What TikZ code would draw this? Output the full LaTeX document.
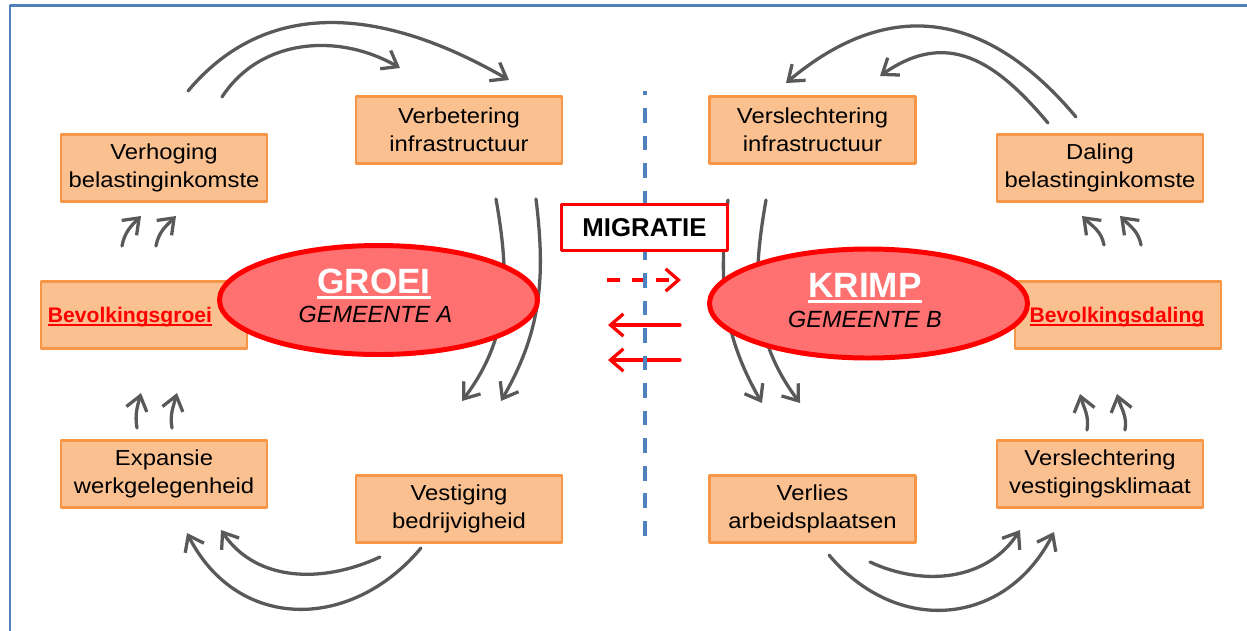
\documentclass[tikz,border=0pt]{standalone}
\usepackage{fontspec}
\setmainfont{Liberation Sans}
\newfontfamily\vakfont[FakeStretch=1.1]{Liberation Sans}
\usetikzlibrary{arrows.meta,shapes.geometric}

\definecolor{kaderblauw}{HTML}{4F81BD}
\definecolor{vakrand}{HTML}{F79646}
\definecolor{vakvulling}{HTML}{FAC090}
\definecolor{kernrood}{HTML}{FF7070}
\definecolor{pijlgrijs}{HTML}{595959}

% underlined headings: #1 thickness, #2 depth of the rule, #3 text
\newsavebox{\kopbox}
\newcommand{\onderstreep}[3]{\sbox{\kopbox}{#3}%
  \rlap{\vrule height \dimexpr #1-#2\relax depth #2 width \wd\kopbox}\usebox{\kopbox}}
\newcommand{\kop}[1]{\onderstreep{3pt}{5.5pt}{#1}}
\newcommand{\rodekop}[1]{\onderstreep{1.7pt}{3.5pt}{#1}}

\begin{document}
\begin{tikzpicture}[x=0.03cm,y=0.03cm,line join=round,line cap=round,
    vak/.style={draw=vakrand,fill=vakvulling,line width=2.5pt,minimum width=6.18cm,
      minimum height=2cm,align=center,inner sep=0pt,font=\vakfont\fontsize{18.5}{24}\selectfont},
    kern/.style={ellipse,draw=red,fill=kernrood,line width=4.25pt,minimum width=9.54cm,
      minimum height=3.27cm,inner sep=0pt},
    titel/.style={anchor=base,text=white,font=\bfseries\fontsize{30}{30}\selectfont},
    gemeente/.style={anchor=base,font=\itshape\fontsize{20}{20}\selectfont},
    rodetekst/.style={anchor=base,text=red,font=\bfseries\fontsize{18}{18}\selectfont},
    kringloop/.style={draw=pijlgrijs,line width=2.8pt,-{Straight Barb[length=12pt,width=18pt]}},
    migratiepijl/.style={draw=red,line width=2.8pt,-{Straight Barb[length=11pt,width=19pt]}}]
  \useasboundingbox (0,0) rectangle (1247,-630);

  % Frame
  \draw[kaderblauw,line width=2.5pt,line cap=butt] (10,-650) -- (10,-5.5) -- (1270,-5.5);

  % Ends of the cycle arrows
  \coordinate (tl1s) at (188,-91);   \coordinate (tl1e) at (509,-80);
  \coordinate (tl2s) at (222,-97);   \coordinate (tl2e) at (400,-68);
  \coordinate (ld1s) at (496,-199);  \coordinate (ld1e) at (462,-401);
  \coordinate (ld2s) at (536,-199);  \coordinate (ld2e) at (501,-401);
  \coordinate (bl1s) at (421,-548);  \coordinate (bl1e) at (187,-533);
  \coordinate (bl2s) at (380,-557);  \coordinate (bl2e) at (221,-530);
  \coordinate (lo1s) at (137,-428);  \coordinate (lo1e) at (141,-393);
  \coordinate (lo2s) at (172,-428);  \coordinate (lo2e) at (177,-393);
  \coordinate (lb1s) at (122,-246);  \coordinate (lb1e) at (141,-216);
  \coordinate (lb2s) at (156,-246);  \coordinate (lb2e) at (176,-216);

  \coordinate (tr1s) at (1076,-117); \coordinate (tr1e) at (786,-83);
  \coordinate (tr2s) at (1048,-123); \coordinate (tr2e) at (880,-76);
  \coordinate (rd1s) at (728,-200);  \coordinate (rd1e) at (762,-403);
  \coordinate (rd2s) at (766,-200);  \coordinate (rd2e) at (800,-403);
  \coordinate (br1s) at (829,-555);  \coordinate (br1e) at (1054,-532);
  \coordinate (br2s) at (870,-562);  \coordinate (br2e) at (1020,-530);
  \coordinate (ro1s) at (1087,-430); \coordinate (ro1e) at (1080,-394);
  \coordinate (ro2s) at (1125,-430); \coordinate (ro2e) at (1117,-394);
  \coordinate (rb1s) at (1104,-245); \coordinate (rb1e) at (1082,-216);
  \coordinate (rb2s) at (1141,-245); \coordinate (rb2e) at (1120,-216);

  % Migration arrows and divider
  \coordinate (mig1s) at (607,-280); \coordinate (mig1e) at (681,-280);
  \coordinate (mig2s) at (680,-325); \coordinate (mig2e) at (608,-325);
  \coordinate (mig3s) at (680,-360); \coordinate (mig3e) at (608,-360);
  \coordinate (grensboven) at (645,-91); \coordinate (grensonder) at (645,-545);

  % Cycle arrows, left (growth) and right (shrinkage)
  \foreach \from/\to/\uit/\aan/\los in {tl1s/tl1e/50/150/1.05, tl2s/tl2e/57/150/1,
      ld1s/ld1e/-80/53/1, ld2s/ld2e/-83/60/1, bl1s/bl1e/-130/-63/1.2, bl2s/bl2e/-155/-56/1,
      lo1s/lo1e/100/-105/1, lo2s/lo2e/100/-105/1, lb1s/lb1e/80/-135/1, lb2s/lb2e/80/-135/1,
      tr1s/tr1e/130/40/1.2, tr2s/tr2e/130/35/1.2, rd1s/rd1e/-97/120/1, rd2s/rd2e/-100/127/1,
      br1s/br1e/-50/-117/1.2, br2s/br2e/-25/-123/1, ro1s/ro1e/80/-75/1, ro2s/ro2e/80/-75/1,
      rb1s/rb1e/100/-45/1, rb2s/rb2e/100/-45/1}
    \draw[kringloop] (\from) to[out=\uit,in=\aan,looseness=\los] (\to);

  % Left: Gemeente A
  \node[vak] (verhoging) at (164,-168) {Verhoging\\belastinginkomste};
  \node[vak] (verbetering) at (459,-130) {Verbetering\\infrastructuur};
  \node[vak] (groeivak) at (144,-315) {};
  \node[rodetekst] (groeitekst) at (130,-322) {\rodekop{Bevolkingsgroei}};
  \node[vak] (expansie) at (164,-474) {Expansie\\werkgelegenheid};
  \node[vak] (vestiging) at (459,-509) {Vestiging\\bedrijvigheid};
  \node[kern] (groei) at (378.5,-300) {};
  \node[titel] (groeititel) at (374,-293) {\kop{GROEI}};
  \node[gemeente] (gemeentea) at (375.5,-322) {GEMEENTE A};

  % Right: Gemeente B
  \node[vak] (verslechtering) at (812.5,-130) {Verslechtering\\infrastructuur};
  \node[vak] (daling) at (1100,-168) {Daling\\belastinginkomste};
  \node[vak] (dalingvak) at (1118,-315) {};
  \node[rodetekst] (dalingtekst) at (1117,-322) {\rodekop{Bevolkingsdaling}};
  \node[vak] (klimaat) at (1100,-474) {Verslechtering\\vestigingsklimaat};
  \node[vak] (verlies) at (812.5,-509) {Verlies\\arbeidsplaatsen};
  \node[kern] (krimp) at (868.5,-303.5) {};
  \node[titel] (krimptitel) at (865,-297) {\kop{KRIMP}};
  \node[gemeente] (gemeenteb) at (865,-327) {GEMEENTE B};

  % Migration
  \draw[migratiepijl,dash pattern=on 11pt off 10pt,line cap=butt] (mig1s) -- (mig1e);
  \draw[migratiepijl] (mig2s) -- (mig2e);
  \draw[migratiepijl] (mig3s) -- (mig3e);
  \draw[kaderblauw,line width=2.6pt,line cap=butt,dash pattern=on 12.5pt off 11pt,dash phase=9pt]
    (grensboven) -- (grensonder);
  \node[draw=red,fill=white,line width=2.5pt,minimum width=4.98cm,minimum height=1.38cm,
    inner sep=0pt,font=\bfseries\fontsize{22}{22}\selectfont] (migratie) at (644.5,-227.5)
    {MIGRATIE};
\end{tikzpicture}
\end{document}
